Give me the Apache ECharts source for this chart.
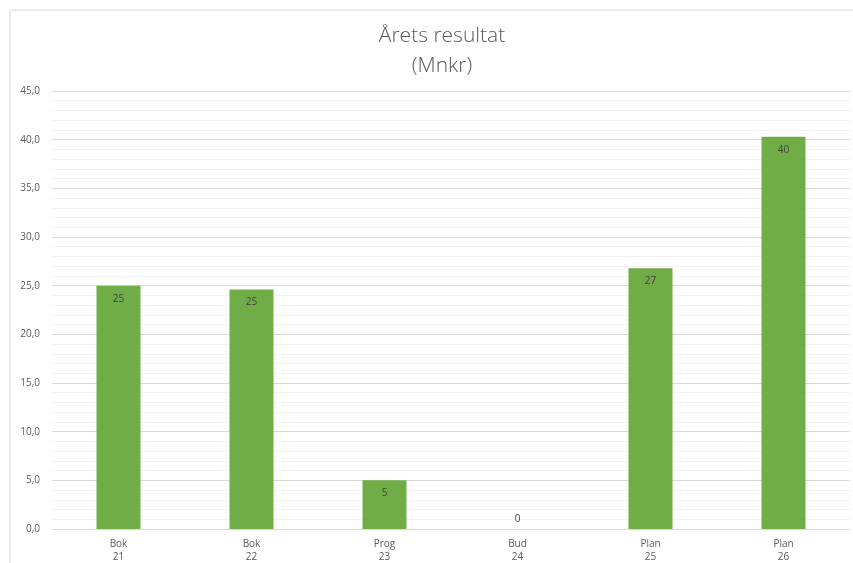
<!DOCTYPE html>
<html>
<head>
<meta charset="utf-8">
<script src="https://cdn.jsdelivr.net/npm/echarts@6/dist/echarts.min.js"></script>
<style>
  html, body { margin: 0; padding: 0; background: #fff; }
  #chart { width: 853px; height: 563px; }
</style>
</head>
<body>
<div id="chart"></div>
<script>
// Result per year (MSEK)
const categories = ['Bok\n21', 'Bok\n22', 'Prog\n23', 'Bud\n24', 'Plan\n25', 'Plan\n26'];
const results = [25.0, 24.6, 5.0, 0, 26.8, 40.3];
const yTicks = { min: 0, max: 45, interval: 5 };

const chart = echarts.init(document.getElementById('chart'), null, { renderer: 'canvas' });

const fontFamily = '"Open Sans", "Liberation Sans", sans-serif';

chart.setOption({
  animation: false,
  backgroundColor: '#ffffff',
  graphic: [{
    type: 'rect',
    shape: { x: 10, y: 10, width: 900, height: 600 },
    style: { fill: 'none', stroke: '#d9d9d9', lineWidth: 1 },
    silent: true,
    z: -1
  }],
  title: {
    text: 'Årets resultat\n(Mnkr)',
    left: 437,
    top: 16,
    textAlign: 'center',
    textStyle: {
      fontFamily: fontFamily,
      fontWeight: 300,
      fontSize: 21,
      lineHeight: 30,
      color: '#595959'
    }
  },
  grid: { left: 52, right: 3, top: 91, bottom: 34, outerBoundsMode: 'none' },
  xAxis: {
    type: 'category',
    data: categories,
    axisLine: { show: true, lineStyle: { color: '#d9d9d9' } },
    axisTick: { show: false },
    axisLabel: {
      color: '#595959',
      fontFamily: fontFamily,
      fontSize: 10,
      lineHeight: 13,
      margin: 9
    }
  },
  yAxis: {
    type: 'value',
    min: yTicks.min,
    max: yTicks.max,
    interval: yTicks.interval,
    axisLine: { show: false },
    axisTick: { show: false },
    axisLabel: {
      color: '#595959',
      fontFamily: fontFamily,
      fontSize: 10,
      margin: 12,
      formatter: v => v.toFixed(1).replace('.', ',')
    },
    splitLine: { show: true, lineStyle: { color: '#d9d9d9', width: 1 } },
    minorTick: { show: false, splitNumber: 5 },
    minorSplitLine: { show: true, lineStyle: { color: '#f2f2f2', width: 1 } }
  },
  series: [{
    type: 'bar',
    barWidth: 44,
    data: results.map(v => v === 0
      ? { value: v, label: { position: 'top', distance: 5 } }
      : v),
    itemStyle: { color: '#70ad47' },
    label: {
      show: true,
      position: 'insideTop',
      distance: 8,
      color: '#404040',
      fontFamily: fontFamily,
      fontSize: 10,
      formatter: p => String(Math.round(p.value))
    }
  }]
});
</script>
</body>
</html>
